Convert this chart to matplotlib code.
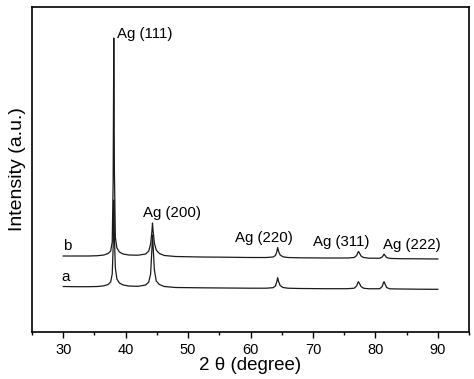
import matplotlib
matplotlib.use('Agg')
import matplotlib.pyplot as plt
from matplotlib.ticker import MultipleLocator

plt.rcParams['font.family'] = ['Liberation Sans', 'DejaVu Sans']

# 2 theta values (degree), shared by both patterns
two_theta = [30, 32, 34, 35.5, 36.5, 37.2, 37.6, 37.85, 38.0, 38.1, 38.2, 38.35, 38.6, 39.0,
             39.6, 40.5, 42.0, 43.2, 43.7, 44.0, 44.2, 44.3, 44.4, 44.6, 44.9, 45.4, 46.2,
             48, 52, 56, 60, 62.5, 63.6, 64.0, 64.2, 64.35, 64.5, 64.75, 65.2, 66.0, 68, 72,
             75.5, 76.6, 77.0, 77.2, 77.3, 77.45, 77.7, 78.1, 79, 80.7, 81.1, 81.3, 81.4,
             81.55, 81.8, 82.3, 84, 87, 90]

# pattern b (upper)
intensity_b = [76, 76, 76, 76.3, 77, 78.5, 81, 90, 150, 294, 160, 95, 84, 80,
               78, 77, 76.8, 78, 81, 88, 100, 109, 101, 89, 82, 78.5, 76.5,
               75.5, 75, 74.8, 74.5, 74.5, 75, 76.5, 80, 84.5, 80.5, 77, 75.2, 74.5, 74.2, 74,
               74, 74.5, 76.5, 79.5, 80.5, 79, 76, 74.5, 73.8, 73.8, 75, 77, 77.8,
               76.5, 74.5, 73.6, 73.3, 73.2, 73]

# pattern a (lower)
intensity_a = [45.5, 45.3, 45.3, 45.5, 46.2, 47.5, 50, 58, 85, 132, 95, 64, 53, 49,
               47, 46, 45.7, 47, 50, 58, 82, 97, 86, 62, 51, 47.5, 45.5,
               44.5, 44.2, 44, 43.8, 43.8, 44.3, 46, 50, 54.3, 50.5, 46.5, 44.5, 43.8, 43.5, 43.3,
               43.3, 43.8, 46, 49.5, 50.3, 48.5, 45.5, 43.8, 43.2, 43.3, 45.5, 49.5, 50.3,
               48, 44.5, 43.2, 43, 42.8, 42.7]

peak_labels = ['Ag (111)', 'Ag (200)', 'Ag (220)', 'Ag (311)', 'Ag (222)']
label_x = [38.6, 42.85, 57.5, 70.05, 81.25]
label_y = [298, 119.5, 94, 90, 87]

fig = plt.figure(figsize=(4.74, 3.79), dpi=100)
ax = fig.add_axes([0.0675, 0.124, 0.922, 0.8575])

ax.plot(two_theta, intensity_b, color='#1a1a1a', lw=0.9)
ax.plot(two_theta, intensity_a, color='#1a1a1a', lw=0.9)

for lab, x, y in zip(peak_labels, label_x, label_y):
    ax.text(x, y, lab, fontsize=10.8, ha='left', va='center')

ax.text(30.05, 86, 'b', fontsize=11, ha='left', va='center')
ax.text(29.7, 55.5, 'a', fontsize=11, ha='left', va='center')

ax.set_xlim(25, 95)
ax.set_ylim(0, 325)
ax.xaxis.set_major_locator(MultipleLocator(10))
ax.xaxis.set_minor_locator(MultipleLocator(5))
ax.set_yticks([])
ax.tick_params(axis='x', which='major', direction='out', length=4, width=1, labelsize=10.5, pad=4)
ax.tick_params(axis='x', which='minor', direction='out', length=2.5, width=1)
for sp in ax.spines.values():
    sp.set_linewidth(1.2)

ax.set_xlabel('2 θ (degree)', fontsize=13.5, labelpad=0)
ax.set_ylabel('Intensity (a.u.)', fontsize=14, labelpad=4)

fig.savefig('out.png', dpi=100)
